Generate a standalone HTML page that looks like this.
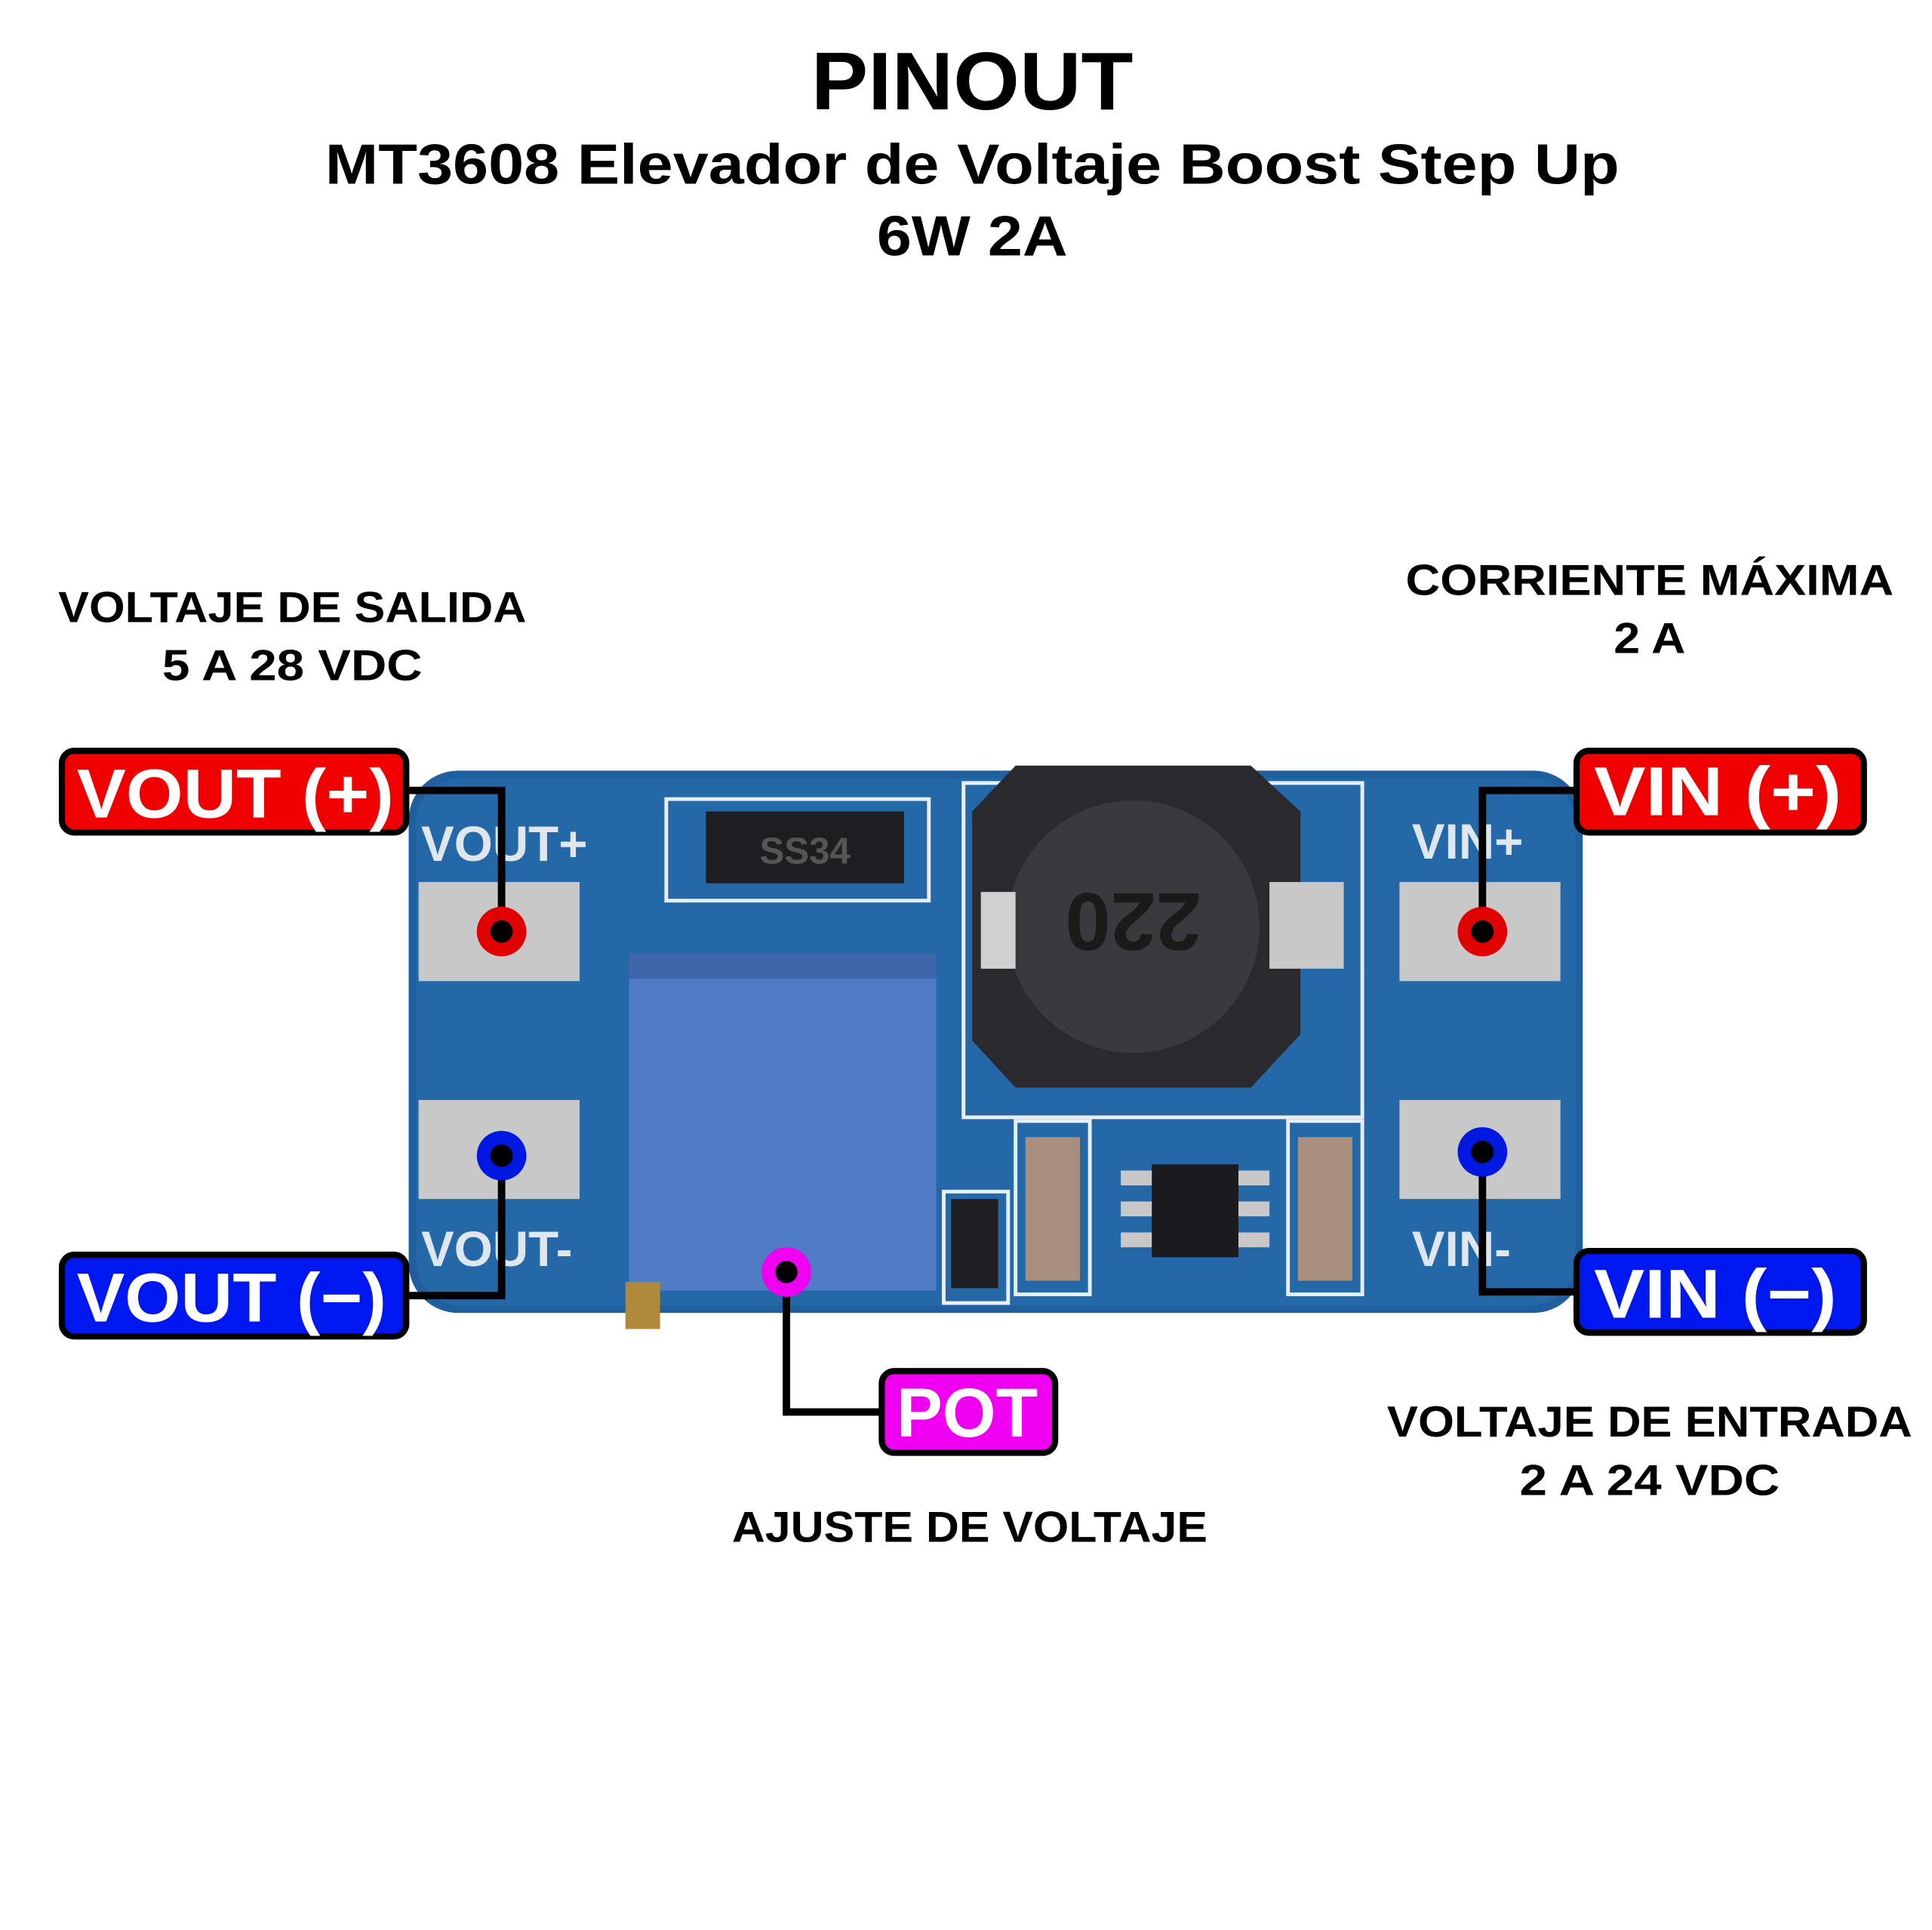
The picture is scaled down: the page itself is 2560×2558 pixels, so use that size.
<!DOCTYPE html>
<html><head><meta charset="utf-8"><style>
html,body{margin:0;padding:0;background:#fff}
svg{display:block}
text{font-family:"Liberation Sans",Arial,sans-serif;font-weight:bold}
</style></head><body>
<svg width="2560" height="2558" viewBox="0 0 1560 1558" xmlns="http://www.w3.org/2000/svg">
<rect width="1560" height="1558" fill="#fff"/>
<text x="785" y="88" font-size="66" text-anchor="middle" textLength="260" lengthAdjust="spacingAndGlyphs">PINOUT</text>
<text x="785" y="148" font-size="46" text-anchor="middle" textLength="1045" lengthAdjust="spacingAndGlyphs">MT3608 Elevador de Voltaje Boost Step Up</text>
<text x="785" y="206" font-size="46" text-anchor="middle" textLength="154" lengthAdjust="spacingAndGlyphs">6W 2A</text>

<text x="236" y="502" font-size="35" text-anchor="middle" textLength="378" lengthAdjust="spacingAndGlyphs">VOLTAJE DE SALIDA</text>
<text x="236" y="549" font-size="35" text-anchor="middle" textLength="210" lengthAdjust="spacingAndGlyphs">5 A 28 VDC</text>
<text x="1332" y="480" font-size="35" text-anchor="middle" textLength="394" lengthAdjust="spacingAndGlyphs">CORRIENTE MÁXIMA</text>
<text x="1332" y="527" font-size="35" text-anchor="middle" textLength="58" lengthAdjust="spacingAndGlyphs">2 A</text>
<text x="1332" y="1160" font-size="35" text-anchor="middle" textLength="424" lengthAdjust="spacingAndGlyphs">VOLTAJE DE ENTRADA</text>
<text x="1332" y="1207" font-size="35" text-anchor="middle" textLength="210" lengthAdjust="spacingAndGlyphs">2 A 24 VDC</text>
<text x="783" y="1245" font-size="35" text-anchor="middle" textLength="384" lengthAdjust="spacingAndGlyphs">AJUSTE DE VOLTAJE</text>

<!-- board -->
<rect x="330" y="622" width="948" height="438" rx="40" fill="#1f5f9e"/>
<rect x="336" y="628" width="936" height="426" rx="36" fill="#2468a8"/>
<!-- traces/outlines -->
<g fill="none" stroke="#e8eef5" stroke-width="3">
<rect x="538" y="645" width="212" height="82"/>
<rect x="778" y="632" width="322" height="270"/>
<rect x="762" y="962" width="52" height="90"/>
<rect x="820" y="905" width="60" height="140"/>
<rect x="1040" y="905" width="60" height="140"/>
</g>
<text x="340" y="695" font-size="40" fill="#e0e6ee" font-weight="normal">VOUT+</text>
<text x="340" y="1022" font-size="40" fill="#e0e6ee" font-weight="normal">VOUT-</text>
<text x="1140" y="693" font-size="40" fill="#e0e6ee" font-weight="normal">VIN+</text>
<text x="1140" y="1022" font-size="40" fill="#e0e6ee" font-weight="normal">VIN-</text>
<!-- pads -->
<rect x="338" y="712" width="130" height="80" fill="#c8c8c8"/>
<rect x="338" y="888" width="130" height="80" fill="#c8c8c8"/>
<rect x="1130" y="712" width="130" height="80" fill="#c8c8c8"/>
<rect x="1130" y="888" width="130" height="80" fill="#c8c8c8"/>
<!-- diode -->
<rect x="570" y="655" width="160" height="58" fill="#1d1d22"/>
<text x="650" y="697" font-size="30" fill="#555" text-anchor="middle" font-weight="normal">SS34</text>
<!-- inductor -->
<path d="M820 618 L1010 618 L1050 655 L1050 835 L1010 878 L820 878 L785 840 L785 655 Z" fill="#2a2a2e"/>
<circle cx="915" cy="748" r="102" fill="#3a3a3e"/>
<text x="915" y="775" font-size="66" fill="#1a1a1a" text-anchor="middle" font-weight="normal" transform="rotate(180 915 748)">220</text>
<rect x="792" y="720" width="28" height="62" fill="#d0d0d0"/>
<rect x="1025" y="712" width="60" height="70" fill="#c8c8c8"/>
<!-- pot -->
<rect x="508" y="770" width="248" height="272" fill="#4f7cc4"/>
<rect x="508" y="770" width="248" height="20" fill="#3e66a8"/>
<rect x="505" y="1035" width="28" height="38" fill="#b08a3a"/>
<!-- smd -->
<rect x="768" y="968" width="38" height="72" fill="#1d1d22"/>
<rect x="828" y="918" width="44" height="116" fill="#a98f7e"/>
<rect x="1048" y="918" width="44" height="116" fill="#a98f7e"/>
<rect x="930" y="940" width="70" height="75" fill="#1b1b1f"/>
<g fill="#c8c8c8"><rect x="905" y="945" width="25" height="12"/><rect x="905" y="970" width="25" height="12"/><rect x="905" y="995" width="25" height="12"/><rect x="1000" y="945" width="25" height="12"/><rect x="1000" y="970" width="25" height="12"/><rect x="1000" y="995" width="25" height="12"/></g>

<!-- connectors -->
<g fill="none" stroke="#000" stroke-width="6">
<polyline points="328,638 405,638 405,752"/>
<polyline points="328,1046 405,1046 405,933"/>
<polyline points="1275,638 1197,638 1197,752"/>
<polyline points="1275,1043 1197,1043 1197,930"/>
<polyline points="635,1027 635,1140 712,1140"/>
</g>
<g stroke="#000" stroke-width="5">
<circle cx="405" cy="752" r="20" fill="#e00000" stroke="none"/><circle cx="405" cy="752" r="9" fill="#000" stroke="none"/>
<circle cx="405" cy="933" r="20" fill="#0018e0" stroke="none"/><circle cx="405" cy="933" r="9" fill="#000" stroke="none"/>
<circle cx="1197" cy="752" r="20" fill="#e00000" stroke="none"/><circle cx="1197" cy="752" r="9" fill="#000" stroke="none"/>
<circle cx="1197" cy="930" r="20" fill="#0018e0" stroke="none"/><circle cx="1197" cy="930" r="9" fill="#000" stroke="none"/>
<circle cx="635" cy="1027" r="20" fill="#f000f0" stroke="none"/><circle cx="635" cy="1027" r="9" fill="#000" stroke="none"/>
</g>
<!-- labels -->
<g stroke="#000" stroke-width="5">
<rect x="50" y="606" width="278" height="66" rx="10" fill="#f00000"/>
<rect x="50" y="1013" width="278" height="66" rx="10" fill="#0018f0"/>
<rect x="1273" y="606" width="232" height="66" rx="10" fill="#f00000"/>
<rect x="1273" y="1010" width="232" height="66" rx="10" fill="#0018f0"/>
<rect x="712" y="1107" width="140" height="66" rx="10" fill="#f000f0"/>
</g>
<g fill="#fff" font-size="56">
<text x="62" y="660" textLength="256" lengthAdjust="spacingAndGlyphs">VOUT (+)</text>
<text x="62" y="1067" textLength="250" lengthAdjust="spacingAndGlyphs">VOUT (−)</text>
<text x="1287" y="658" textLength="200" lengthAdjust="spacingAndGlyphs">VIN (+)</text>
<text x="1287" y="1064" textLength="196" lengthAdjust="spacingAndGlyphs">VIN (−)</text>
<text x="724" y="1160" textLength="114" lengthAdjust="spacingAndGlyphs">POT</text>
</g>
</svg>
</body></html>
